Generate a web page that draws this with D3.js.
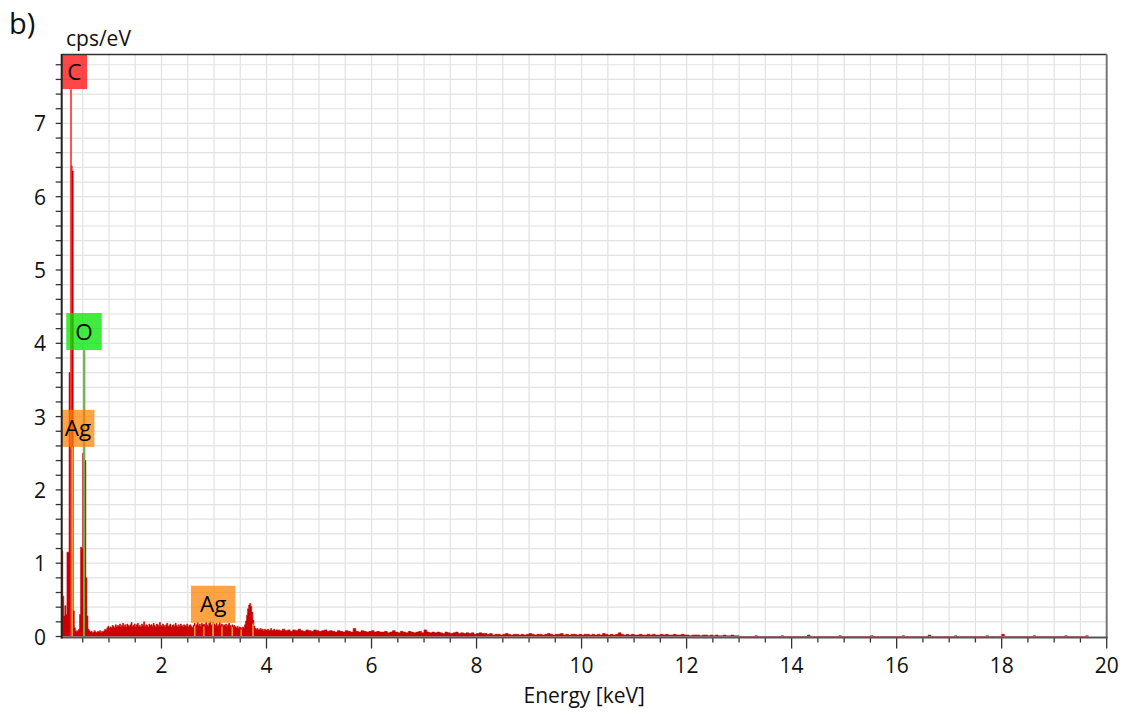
<!DOCTYPE html>
<html>
<head>
<meta charset="utf-8">
<script src="https://cdn.jsdelivr.net/npm/d3@7"></script>
<style>
  body { margin: 0; background: #fff; }
  svg { display: block; font-family: "Open Sans", "Noto Sans", sans-serif; }
</style>
</head>
<body>
<svg id="chart" width="1128" height="715"></svg>
<script>
// EDS spectrum, cps/eV per channel. Three channel blocks + sparse tail blips.
const lowStart = 0.10, lowStep = 0.02;
const lowCounts = [
  1.17, 0.55, 0.28, 0.42, 0.30, 1.15, 1.15, 3.60, 2.55, 6.42,
  6.35, 0.35, 0.12, 0.08, 0.06, 0.08, 0.10, 0.30, 1.22, 1.20,
  2.50, 3.90, 2.40, 0.80, 0.28, 0.10, 0.08, 0.06, 0.07, 0.05,
  0.06, 0.08, 0.06, 0.05, 0.07, 0.06, 0.08, 0.05, 0.07, 0.06,
  0.08, 0.10, 0.09, 0.12, 0.14
];
const midStart = 1.00, midStep = 0.02;
const midCounts = [
  0.11, 0.13, 0.12, 0.15, 0.14, 0.12, 0.16, 0.13, 0.15, 0.14,
  0.17, 0.13, 0.15, 0.18, 0.14, 0.16, 0.13, 0.17, 0.15, 0.14,
  0.16, 0.19, 0.14, 0.15, 0.17, 0.13, 0.16, 0.18, 0.14, 0.15,
  0.13, 0.17, 0.15, 0.20, 0.14, 0.16, 0.15, 0.13, 0.17, 0.15,
  0.16, 0.14, 0.18, 0.15, 0.13, 0.17, 0.16, 0.14, 0.19, 0.15,
  0.14, 0.17, 0.15, 0.13, 0.16, 0.18, 0.14, 0.15, 0.17, 0.13,
  0.15, 0.16, 0.14, 0.18, 0.15, 0.13, 0.16, 0.14, 0.17, 0.15,
  0.13, 0.16, 0.15, 0.14, 0.17, 0.13, 0.15, 0.16, 0.14, 0.12,
  0.15, 0.18, 0.14, 0.16, 0.19, 0.15, 0.17, 0.14, 0.18, 0.16,
  0.17, 0.15, 0.19, 0.16, 0.14, 0.18, 0.20, 0.16, 0.15, 0.19,
  0.17, 0.15, 0.18, 0.14, 0.16, 0.19, 0.15, 0.17, 0.14, 0.16,
  0.15, 0.17, 0.14, 0.16, 0.18, 0.15, 0.13, 0.16, 0.14, 0.15,
  0.13, 0.12, 0.14, 0.11, 0.13, 0.12, 0.11, 0.13, 0.12, 0.16,
  0.21, 0.29, 0.38, 0.43, 0.45, 0.41, 0.33, 0.22, 0.14, 0.11,
  0.10, 0.11, 0.09, 0.10, 0.11, 0.09, 0.10, 0.08, 0.10, 0.09,
  0.09, 0.10, 0.08, 0.09, 0.11, 0.08, 0.09, 0.10, 0.08, 0.09
];
const highStart = 4.20, highStep = 0.05;
const highCounts = [
  0.09, 0.08, 0.10, 0.08, 0.09, 0.07, 0.09, 0.08, 0.10, 0.08, 0.07, 0.09, 0.08, 0.07, 0.09, 0.08, 0.07, 0.08, 0.09, 0.07,
  0.08, 0.07, 0.06, 0.08, 0.07, 0.06, 0.08, 0.07, 0.06, 0.11, 0.07, 0.06, 0.08, 0.07, 0.06, 0.07, 0.08, 0.06, 0.07, 0.06,
  0.06, 0.07, 0.05, 0.06, 0.08, 0.06, 0.05, 0.07, 0.06, 0.05, 0.07, 0.06, 0.05, 0.06, 0.07, 0.05, 0.09, 0.06, 0.05, 0.06,
  0.05, 0.06, 0.05, 0.04, 0.06, 0.05, 0.04, 0.05, 0.06, 0.04, 0.05, 0.04, 0.05, 0.04, 0.05, 0.03, 0.04, 0.05, 0.04, 0.04,
  0.03, 0.04, 0.02, 0.03, 0.03, 0.02, 0.03, 0.04, 0.03, 0.02, 0.03, 0.03, 0.02, 0.03, 0.02, 0.03, 0.04, 0.03, 0.02, 0.03,
  0.03, 0.02, 0.03, 0.04, 0.03, 0.02, 0.03, 0.03, 0.04, 0.02, 0.03, 0.02, 0.03, 0.03, 0.02, 0.03, 0.02, 0.03, 0.03, 0.02,
  0.03, 0.02, 0.03, 0.02, 0.04, 0.03, 0.02, 0.03, 0.02, 0.03, 0.05, 0.03, 0.02, 0.03, 0.02, 0.03, 0.02, 0.02, 0.03, 0.02,
  0.02, 0.03, 0.02, 0.03, 0.02, 0.02, 0.03, 0.02, 0.03, 0.02, 0.02, 0.03, 0.02, 0.02, 0.03, 0.02, 0.02, 0.01, 0.02, 0.02,
  0.02, 0.01, 0.02, 0.02, 0.01, 0.02, 0.01, 0.02, 0.01, 0.01, 0.02, 0.01, 0.01, 0.02, 0.01, 0.01
];
// [energy keV, cps/eV]
const tailBlips = [
  [13.3, 0.01], [13.8, 0.01], [14.3, 0.02], [14.9, 0.01], [15.5, 0.01], [16.1, 0.01],
  [16.6, 0.02], [17.1, 0.01], [17.7, 0.01], [18.0, 0.03], [18.6, 0.01], [19.2, 0.01], [19.6, 0.01]
];
const blipWidth = 0.05;

// Ag L family lines (keV)
const agLLines = [2.634, 2.806, 2.984, 3.151, 3.348, 3.519, 3.743];

// element labels: energy of line, label height in cps/eV
const markers = [
  { name: 'C',  energy: 0.277, level: 7.72, fill: 'rgba(255,0,0,0.72)',   line: '#ff2a2a' },
  { name: 'O',  energy: 0.525, level: 4.16, fill: 'rgba(0,230,0,0.75)',   line: '#4fd94f' },
  { name: 'Ag', energy: 0.300, level: 2.84, fill: 'rgba(255,128,0,0.72)', line: '#ff9a30' },
  { name: 'Ag', energy: 2.984, level: 0.44, fill: 'rgba(255,128,0,0.72)', line: '#ff9a30' }
];

const xMajor = [2, 4, 6, 8, 10, 12, 14, 16, 18, 20];
const yMajor = [0, 1, 2, 3, 4, 5, 6, 7];

(function () {
  const svg = d3.select('#chart');
  const pL = 61.7, pR = 1106.7, pT = 54.5, pB = 636.5;
  const fs = 21;

  const x = d3.scaleLinear().domain([0.1, 20]).range([pL, pR]);
  const y = d3.scaleLinear().domain([0, 7.94]).range([pB, pT]);

  svg.append('defs').append('clipPath').attr('id', 'plotclip')
    .append('rect').attr('x', pL).attr('y', pT)
    .attr('width', pR - pL).attr('height', pB - pT);

  // grid
  const grid = svg.append('g').attr('stroke', '#e2e2e2').attr('stroke-width', 1.2);
  const xMinor = d3.range(1, 40).map(d => d * 0.5);
  const yMinor = d3.range(1, 40).map(d => +(d * 0.2).toFixed(1));
  grid.selectAll('line.gx').data(xMinor).enter().append('line')
    .attr('x1', d => x(d)).attr('x2', d => x(d)).attr('y1', pT).attr('y2', pB);
  grid.selectAll('line.gy').data(yMinor).enter().append('line')
    .attr('x1', pL).attr('x2', pR).attr('y1', d => y(d)).attr('y2', d => y(d));

  // build channels
  const channels = [];
  function addBlock(start, step, counts) {
    counts.forEach((v, i) => channels.push({ e0: start + i * step, e1: start + (i + 1) * step, v: v }));
  }
  addBlock(lowStart, lowStep, lowCounts);
  addBlock(midStart, midStep, midCounts);
  addBlock(highStart, highStep, highCounts);
  tailBlips.forEach(b => channels.push({ e0: b[0], e1: b[0] + blipWidth, v: b[1] }));
  channels.sort((a, b) => a.e0 - b.e0);

  const pts = [];
  let prevEnd = null;
  channels.forEach(c => {
    if (prevEnd !== null && c.e0 - prevEnd > 1e-6) pts.push({ e: prevEnd, v: 0 });
    pts.push({ e: c.e0, v: c.v });
    prevEnd = c.e1;
  });
  pts.push({ e: prevEnd, v: 0 });

  function valueAt(e) {
    const c = channels.find(c => e >= c.e0 && e < c.e1);
    return c ? c.v : 0;
  }

  const plot = svg.append('g').attr('clip-path', 'url(#plotclip)');

  const area = d3.area()
    .x(d => x(d.e)).y0(y(0)).y1(d => y(d.v))
    .curve(d3.curveStepAfter);

  plot.append('path').datum(pts)
    .attr('d', area)
    .attr('fill', '#cc0000')
    .attr('stroke', '#c00000')
    .attr('stroke-width', 0.6);

  // Ag L lines inside the spectrum
  plot.selectAll('line.agl').data(agLLines).enter().append('line')
    .attr('x1', d => x(d)).attr('x2', d => x(d))
    .attr('y1', y(0)).attr('y2', d => y(valueAt(d) * 0.8))
    .attr('stroke', '#ff9a30').attr('stroke-width', 1.5);

  // marker lines + labels
  const boxH = 37;
  const labelG = plot.append('g');
  markers.forEach(m => {
    const cx = x(m.energy);
    const cy = y(m.level);
    const t = labelG.append('text').text(m.name)
      .attr('font-size', 22.5).attr('fill', '#000')
      .attr('text-anchor', 'middle');
    const tw = t.node().getComputedTextLength();
    const bw = tw + 18;
    const bx0 = Math.max(pL, cx - bw / 2);
    const bx1 = Math.min(pR, cx + bw / 2);
    const by0 = Math.max(pT, cy - boxH / 2);
    const by1 = cy + boxH / 2;
    labelG.insert('line', 'text')
      .attr('x1', cx).attr('x2', cx).attr('y1', y(0)).attr('y2', by1)
      .attr('stroke', m.line).attr('stroke-width', 1.6);
    labelG.insert('rect', 'text')
      .attr('x', bx0).attr('y', by0)
      .attr('width', bx1 - bx0).attr('height', by1 - by0)
      .attr('fill', m.fill);
    t.attr('x', (bx0 + bx1) / 2).attr('y', (by0 + by1) / 2 + 8);
  });

  // frame
  svg.append('line').attr('x1', pL).attr('x2', pR).attr('y1', pT).attr('y2', pT)
    .attr('stroke', '#333').attr('stroke-width', 1.5);
  svg.append('line').attr('x1', pR).attr('x2', pR).attr('y1', pT).attr('y2', pB + 1)
    .attr('stroke', '#777').attr('stroke-width', 2);

  // x axis
  const xAxisG = svg.append('g');
  const xTicks = d3.range(1, 41).map(d => d * 0.5);
  xAxisG.selectAll('line.xt').data(xTicks).enter().append('line')
    .attr('x1', d => x(d)).attr('x2', d => x(d))
    .attr('y1', pB + 1)
    .attr('y2', d => pB + 1 + (d % 2 === 0 ? 11 : 5))
    .attr('stroke', '#333').attr('stroke-width', 1.3);
  xAxisG.append('line').attr('x1', pL - 1).attr('x2', pR + 1)
    .attr('y1', pB + 1).attr('y2', pB + 1)
    .attr('stroke', '#555').attr('stroke-width', 2);
  xAxisG.selectAll('text').data(xMajor).enter().append('text')
    .attr('x', d => x(d)).attr('y', 673)
    .attr('text-anchor', 'middle').attr('font-size', fs).attr('fill', '#111')
    .text(d => d);
  svg.append('text').attr('x', (pL + pR) / 2).attr('y', 703)
    .attr('text-anchor', 'middle').attr('font-size', fs).attr('fill', '#111')
    .text('Energy [keV]');

  // y axis
  const yAxisG = svg.append('g');
  const yTicks = d3.range(0, 40).map(d => +(d * 0.2).toFixed(1));
  yAxisG.selectAll('line.yt').data(yTicks).enter().append('line')
    .attr('x1', pL - 6).attr('x2', pL)
    .attr('y1', d => y(d)).attr('y2', d => y(d))
    .attr('stroke', '#333').attr('stroke-width', 1.3);
  yAxisG.append('line').attr('x1', pL).attr('x2', pL)
    .attr('y1', pT - 0.5).attr('y2', pB + 2)
    .attr('stroke', '#222').attr('stroke-width', 2);
  yAxisG.selectAll('text').data(yMajor).enter().append('text')
    .attr('x', 46).attr('y', d => y(d) + 8)
    .attr('text-anchor', 'end').attr('font-size', fs).attr('fill', '#111')
    .text(d => d);
  svg.append('text').attr('x', 66).attr('y', 46)
    .attr('font-size', fs).attr('fill', '#111').text('cps/eV');

  svg.append('text').attr('x', 9).attr('y', 34)
    .attr('font-size', 29).attr('fill', '#111').text('b)');
})();
</script>
</body>
</html>
